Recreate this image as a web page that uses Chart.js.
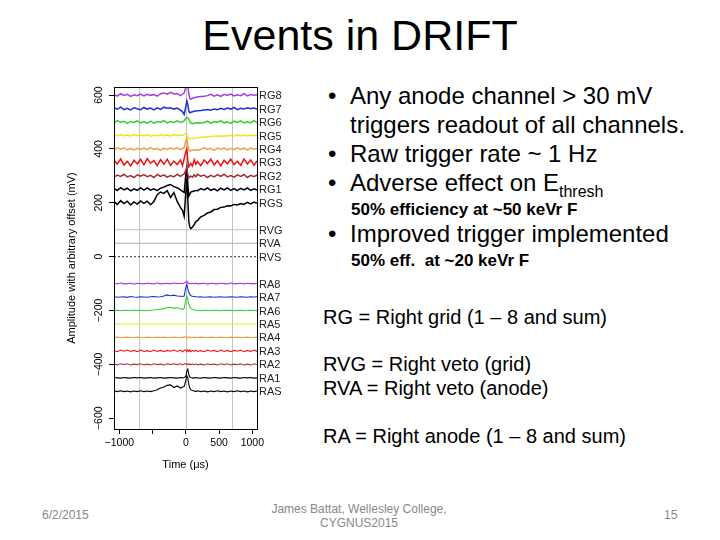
<!DOCTYPE html>
<html>
<head>
<meta charset="utf-8">
<script src="https://cdn.jsdelivr.net/npm/chart.js@4.4.0/dist/chart.umd.min.js"></script>
<style>
html,body{margin:0;padding:0;background:#fff;}
body{width:720px;height:540px;position:relative;overflow:hidden;font-family:"Liberation Sans",Arial,sans-serif;color:#000;}
.t{position:absolute;white-space:nowrap;line-height:1;}
#title{left:0;width:720px;text-align:center;top:14px;font-size:43px;}
.b{font-size:24px;left:350px;}
.dot{position:absolute;left:-22px;}
.s{font-size:17px;font-weight:bold;left:351px;}
.k{font-size:20px;left:323px;}
.f{font-size:12px;color:#888;}
#wrap{position:absolute;left:60px;top:80px;width:240px;height:400px;}
</style>
</head>
<body>
<div class="t" id="title">Events in DRIFT</div>

<div class="t b" style="top:84px"><span class="dot">•</span>Any anode channel &gt; 30 mV</div>
<div class="t b" style="top:113px">triggers readout of all channels.</div>
<div class="t b" style="top:142px"><span class="dot">•</span>Raw trigger rate ~ 1 Hz</div>
<div class="t b" style="top:171px"><span class="dot">•</span>Adverse effect on E<span style="font-size:16px;position:relative;top:6px">thresh</span></div>
<div class="t s" style="top:201px">50% efficiency at ~50 keVr F</div>
<div class="t b" style="top:222px"><span class="dot">•</span>Improved trigger implemented</div>
<div class="t s" style="top:252px">50% eff.&nbsp; at ~20 keVr F</div>

<div class="t k" style="top:307px">RG = Right grid (1 – 8 and sum)</div>
<div class="t k" style="top:354px">RVG = Right veto (grid)</div>
<div class="t k" style="top:378px">RVA = Right veto (anode)</div>
<div class="t k" style="top:426px">RA = Right anode (1 – 8 and sum)</div>

<div class="t f" style="left:42px;top:509px">6/2/2015</div>
<div class="t f" style="left:259px;width:200px;text-align:center;top:502px;line-height:14px">James Battat, Wellesley College,<br>CYGNUS2015</div>
<div class="t f" style="left:664px;top:509px">15</div>

<div id="wrap"><canvas id="grafico"></canvas></div>

<script>
// tempos de amostragem (µs) - mais denso perto do trigger
const times = [-1080,-1030,-980,-930,-880,-830,-780,-730,-680,-630,
  -580,-530,-480,-430,-380,-330,-280,-230,-180,-130,
  -80,-50,-25,0,15,30,45,60,75,100,
  125,150,175,225,275,325,375,425,475,525,
  575,625,675,725,775,825,875,925,975,1025,
  1070];
const tEdge = [-1080, 1070];

// canais, de cima para baixo, e o offset arbitrário de cada um (mV)
const channels = ['RG8','RG7','RG6','RG5','RG4','RG3','RG2','RG1','RGS','RVG','RVA','RVS',
  'RA8','RA7','RA6','RA5','RA4','RA3','RA2','RA1','RAS'];
const offsets = [600,550,500,450,400,350,300,250,200,100,50,0,
  -100,-150,-200,-250,-300,-350,-400,-450,-500];

// amplitude em relação ao offset (mV)
const rg8 = [2,-4,5,-1,3,-5,1,-2,4,-3, 3,-1,2,-4,5,8,3,10,4,6, -2,3,8,30,42,35,5,-12,-15,-12, -10,-8,-7,-5,-4,-2,3,-4,1,-5, 3,-1,4,-3,1,-2,5,-3,2,-1, 1];
const rg7 = [3,-2,5,-4,1,-5,3,-1,-4,4, -2,2,-5,3,-3,5,1,3,-2,2, -6,-12,-22,8,28,15,-10,-16,-14,-12, -10,-9,-8,-7,-5,-4,-6,-2,-4,1, -3,2,-2,4,-4,1,-2,3,-1,2, -2];
const rg6 = [-3,5,-1,3,-5,2,-2,4,-3,2, -4,3,-4,2,-1,5,-3,2,-2,4, -2,1,4,14,18,16,10,2,-4,-6, -5,-4,-3,-4,-2,3,-4,2,-1,4, -3,1,-5,3,-2,4,-3,1,-3,5, -2];
const rg5 = [2,-2,3,-1,2,-3,3,-1,2,-2, 3,-3,1,-2,3,-1,2,-3,3,-1, 2,1,3,6,2,-6,-11,-12,-12,-11, -10,-9,-8,-7,-6,-5,-4,-3,-2,-3, -1,-2,1,-2,2,-1,1,-2,2,-1, 1];
const rg4 = [-3,4,-1,4,-4,2,-4,2,-2,3, -3,5,-2,2,-5,3,-2,4,-1,4, -3,2,6,30,38,12,-5,-8,-6,-5, -4,-3,-4,-2,4,-2,2,-5,3,-1, 3,-4,2,-3,4,-2,3,-4,4,-1, 2];
const rg3 = [9,-6,13,-10,4,-13,8,-5,11,-9, 14,-3,7,-12,10,-7,12,-11,5,-8, 9,-12,14,40,50,6,-16,-10,-4,-13, 10,-7,3,-12,9,-4,12,-9,6,-13, 8,-5,12,-8,4,-11,13,-6,9,-10, 5];
const rg2 = [-5,3,-2,6,-4,1,-6,4,-1,5, -3,2,-6,5,-2,4,-5,1,-4,6, -2,4,7,22,30,4,-7,-4,-1,-5, 4,-3,6,-1,3,-6,2,-4,5,-2, 6,-4,1,-5,4,-2,5,-6,2,-3, 4];
const rg1 = [3,-4,6,-2,4,-6,2,-4,5,-3, 5,-3,2,-5,4,8,14,18,10,6, -2,-8,-12,55,80,20,-25,-18,-10,-8, -6,-4,-5,3,-2,5,-4,2,-6,4, -2,5,-4,3,-5,4,-2,5,-4,2, -3];
const rgs = [5,-6,8,-3,6,-8,3,-5,7,-2, 6,-7,5,30,40,35,45,20,38,5, -18,-28,-50,40,90,10,-70,-90,-96,-90, -82,-70,-66,-52,-47,-38,-34,-25,-24,-17, -16,-11,-12,-6,-8,-3,-6,2,-4,3, -2];
const rvg = [0,0];
const rva = [0,0];
const rvs = [0,0];
const ra8 = [1,-1,2,-1,0,1,-2,1,0,-1, 1,0,-1,2,-1,0,1,-1,2,0, 1,0,2,6,9,3,1,-1,0,1, -1,2,-1,0,1,-2,1,0,-1,1, 0,-1,2,-1,0,1,-1,1,0,-1, 1];
const ra7 = [1,-1,0,1,-1,2,0,-1,1,0, -1,1,2,0,1,4,8,5,7,4, 3,2,4,35,48,30,18,10,5,3, 2,1,0,1,-1,0,1,-1,0,1, -1,0,1,0,-1,1,0,-1,1,0, 1];
const ra6 = [0,1,-1,1,0,-1,1,0,1,-1, 0,1,2,4,5,7,10,12,8,11, 6,5,8,40,55,40,25,14,8,4, 2,1,0,-1,1,0,-1,1,0,-1, 1,0,1,-1,0,1,-1,0,1,0, -1];
const ra5 = [0,0];
const ra4 = [0,1,-1,0,1,0,-1,1,0,-1, 1,0,-1,1,0,1,-1,0,1,0, -1,1,0,5,-4,2,0,1,-1,0, 1,-1,0,1,0,-1,1,0,-1,1, 0,-1,1,0,1,-1,0,1,-1,0, 1];
const ra3 = [2,-3,3,-1,3,-2,2,-3,3,-2, 1,-3,3,-2,2,-3,2,-1,3,-2, 3,-3,2,4,-3,3,-2,3,-3,2, -2,3,-2,1,-3,3,-1,2,-3,3, -2,2,-3,2,-1,3,-3,2,-2,3, -2];
const ra2 = [1,-2,2,-1,2,-2,1,-1,2,-2, 1,-2,2,-1,1,-2,2,-1,2,-1, 2,-2,1,3,-2,2,-1,2,-2,1, -1,2,-2,1,-2,2,-1,1,-2,2, -1,2,-2,1,-1,2,-2,1,-2,2, -1];
const ra1 = [1,0,-1,1,0,-1,1,0,1,-1, 0,1,-1,0,1,-1,0,1,0,-1, 1,0,1,5,25,32,12,3,1,0, -1,1,0,-1,1,0,-1,1,0,-1, 1,0,-1,1,0,-1,1,0,1,-1, 0];
const ras = [1,-1,2,-1,1,-2,1,-1,2,-1, 1,-1,2,6,12,16,22,24,14,20, 12,16,18,40,58,50,25,12,6,3, 1,-1,2,-1,1,-2,1,-1,2,-1, 1,-2,1,-1,2,-1,1,-2,1,-1, 1];

const traces = [rg8,rg7,rg6,rg5,rg4,rg3,rg2,rg1,rgs,rvg,rva,rvs,ra8,ra7,ra6,ra5,ra4,ra3,ra2,ra1,ras];

// eixos
const xTicks = [-1000,-500,0,500,1000];
const xTickLabels = ['\u22121000','','0','500','1000'];
const yTicks = [-600,-400,-200,0,200,400,600];
const yTickLabels = ['\u2212600','\u2212400','\u2212200','0','200','400','600'];
const gridTimes = [-700,0,700];

// estilos
const lineColors = ['#a040e0','#2030d0','#30d030','#e8e820','#f0a040','#f01010','#a03030','#000000','#000000',
  '#a8c8e0','#b0b0b0','#555555',
  '#a040e0','#2030d0','#30d030','#e8e820','#f0a040','#f01010','#c03040','#000000','#000000'];
const FONT = '"Liberation Sans", Arial, sans-serif';

const datasets = channels.map((name, i) => {
  const dev = traces[i];
  const tt = dev.length === times.length ? times : tEdge;
  return {
    label: name,
    data: dev.map((v, j) => ({x: tt[j], y: offsets[i] + v})),
    borderColor: lineColors[i],
    borderWidth: i < 9 ? 1.5 : 1.1,
    borderDash: name === 'RVS' ? [2, 2] : [],
    pointRadius: 0,
    tension: 0
  };
});

// desenha grade, moldura, rótulos do eixo y e nomes dos canais
const rPlot = {
  id: 'rPlot',
  beforeDatasetsDraw(chart){
    const {ctx, chartArea: a, scales: {x}} = chart;
    ctx.save();
    ctx.strokeStyle = '#c4c4c4';
    ctx.lineWidth = 1;
    gridTimes.forEach(v => {
      const px = Math.round(x.getPixelForValue(v)) + 0.5;
      ctx.beginPath(); ctx.moveTo(px, a.top); ctx.lineTo(px, a.bottom); ctx.stroke();
    });
    ctx.restore();
  },
  afterDatasetsDraw(chart){
    const {ctx, chartArea: a, scales: {y}} = chart;
    ctx.save();
    ctx.strokeStyle = '#000';
    ctx.lineWidth = 1;
    ctx.strokeRect(Math.round(a.left) + 0.5, Math.round(a.top) + 0.5, Math.round(a.right - a.left), Math.round(a.bottom - a.top));
    ctx.fillStyle = '#000';
    ctx.font = '10.5px ' + FONT;
    ctx.textAlign = 'center';
    ctx.textBaseline = 'middle';
    yTicks.forEach((v, i) => {
      ctx.save();
      ctx.translate(39, y.getPixelForValue(v));
      ctx.rotate(-Math.PI / 2);
      ctx.fillText(yTickLabels[i], 0, 0);
      ctx.restore();
    });
    ctx.font = '11px ' + FONT;
    ctx.fillStyle = '#222';
    ctx.textAlign = 'left';
    channels.forEach((name, i) => {
      ctx.fillText(name, a.right + 2, y.getPixelForValue(offsets[i]) + 1);
    });
    ctx.restore();
  }
};

new Chart(document.getElementById('grafico'), {
  type: 'line',
  data: { datasets },
  plugins: [rPlot],
  options: {
    responsive: true,
    maintainAspectRatio: false,
    animation: false,
    layout: { padding: { left: 0, right: 43, top: 7, bottom: 0 } },
    plugins: { legend: { display: false }, tooltip: { enabled: false } },
    scales: {
      x: {
        type: 'linear', min: -1080, max: 1070,
        afterBuildTicks: s => { s.ticks = xTicks.map(v => ({value: v})); },
        afterFit: s => { s.height = 51; },
        ticks: { callback: (v, i) => xTickLabels[i], color: '#000', font: { family: FONT, size: 10.5 }, maxRotation: 0, autoSkip: false, padding: 3 },
        grid: { drawOnChartArea: false, tickLength: 5, color: '#000' },
        border: { display: false },
        title: { display: true, text: 'Time (\u03bcs)', color: '#000', font: { family: FONT, size: 11 }, padding: { top: 0, bottom: 8 } }
      },
      y: {
        type: 'linear', min: -640, max: 630,
        afterBuildTicks: s => { s.ticks = yTicks.map(v => ({value: v})); },
        afterFit: s => { s.width = 54; },
        ticks: { display: false },
        grid: { drawOnChartArea: false, tickLength: 5, color: '#000' },
        border: { display: false },
        title: { display: true, text: 'Amplitude with arbitrary offset (mV)', color: '#000', font: { family: FONT, size: 11 }, padding: { top: 5, bottom: 0 } }
      }
    }
  }
});
</script>
</body>
</html>
